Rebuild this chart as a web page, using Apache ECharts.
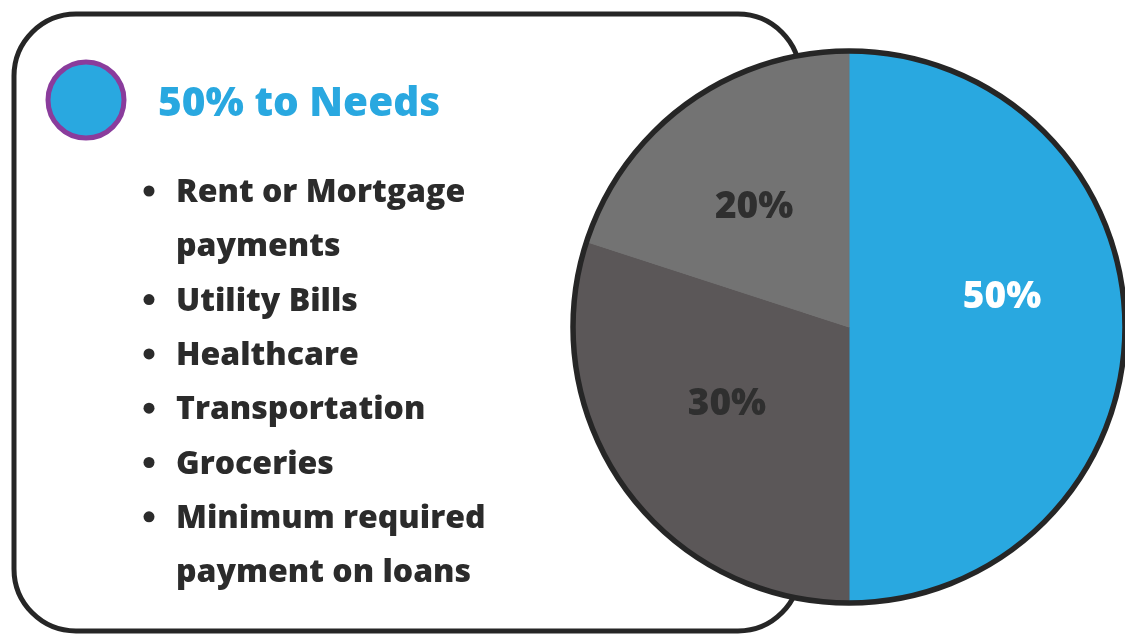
<!DOCTYPE html>
<html>
<head>
<meta charset="utf-8">
<script src="https://cdn.jsdelivr.net/npm/echarts@6/dist/echarts.min.js"></script>
<style>
  html, body { margin: 0; padding: 0; background: #ffffff; }
  #chart { width: 1125px; height: 635px; }
</style>
</head>
<body>
<div id="chart"></div>
<script>
// Budget split
const sliceNames = ['Needs', 'Savings', 'Wants'];
const sliceValues = [50, 30, 20];
const sliceColors = ['#29a8e0', '#5b5758', '#737373'];
const sliceLabelColors = ['#ffffff', '#2f2f2f', '#2f2f2f'];

// Card content
const cardTitle = '50% to Needs';
const needsItems = [
  'Rent or Mortgage\npayments',
  'Utility Bills',
  'Healthcare',
  'Transportation',
  'Groceries',
  'Minimum required\npayment on loans'
];

const FONT = '"Open Sans", "Noto Sans", sans-serif';
const LINE_H = 54.3;
const LIST_X = 176;
const LIST_TOP = 193;
const PIE_CENTER = [849, 327];
const PIE_R = 276;

// per-slice nudges for the percentage labels
const labelOffsets = [[12, -30], [-8, -5], [-12, -5]];

const chart = echarts.init(document.getElementById('chart'), null, { renderer: 'canvas' });

const graphics = [
  {
    type: 'rect',
    shape: { x: 14, y: 14, width: 786, height: 617, r: 62 },
    style: { fill: '#ffffff', stroke: '#262626', lineWidth: 5 },
    z: 0
  },
  {
    type: 'circle',
    shape: { cx: 86, cy: 100, r: 38 },
    style: { fill: '#29a8e0', stroke: '#8a3c9c', lineWidth: 5 },
    z: 1
  },
  {
    type: 'text',
    x: 158, y: 104,
    style: {
      text: cardTitle,
      font: '800 40.5px ' + FONT,
      fill: '#29a8e0',
      textVerticalAlign: 'middle'
    },
    z: 1
  }
];

let lineIdx = 0;
needsItems.forEach(function (item) {
  const lines = item.split('\n');
  const yc = LIST_TOP + lineIdx * LINE_H;
  graphics.push({
    type: 'circle',
    shape: { cx: 149, cy: yc - 2, r: 5.5 },
    style: { fill: '#2b2b2b' },
    z: 1
  });
  lines.forEach(function (ln, k) {
    graphics.push({
      type: 'text',
      x: LIST_X, y: yc + k * LINE_H,
      style: {
        text: ln,
        font: '800 32px ' + FONT,
        fill: '#2b2b2b',
        textVerticalAlign: 'middle'
      },
      z: 1
    });
  });
  lineIdx += lines.length;
});

const pieData = sliceNames.map(function (n, i) {
  return {
    name: n,
    value: sliceValues[i],
    itemStyle: { color: sliceColors[i], borderColor: sliceColors[i], borderWidth: 1 },
    label: { color: sliceLabelColors[i], offset: labelOffsets[i] }
  };
});

chart.setOption({
  animation: false,
  graphic: graphics,
  series: [
    {
      type: 'pie',
      center: PIE_CENTER,
      radius: [0, PIE_R],
      startAngle: 90,
      clockwise: true,
      silent: true,
      z: 3,
      label: {
        show: true,
        position: 'inside',
        formatter: function (p) { return p.value + '%'; },
        fontFamily: FONT,
        fontWeight: 800,
        fontSize: 37
      },
      labelLine: { show: false },
      data: pieData
    },
    {
      // outer ring of the pie
      type: 'pie',
      center: PIE_CENTER,
      radius: [0, PIE_R],
      silent: true,
      z: 4,
      label: { show: false },
      labelLine: { show: false },
      itemStyle: { color: 'rgba(0,0,0,0)', borderColor: '#262626', borderWidth: 5.5 },
      data: [{ value: 1, name: 'outline' }]
    }
  ]
});
</script>
</body>
</html>
